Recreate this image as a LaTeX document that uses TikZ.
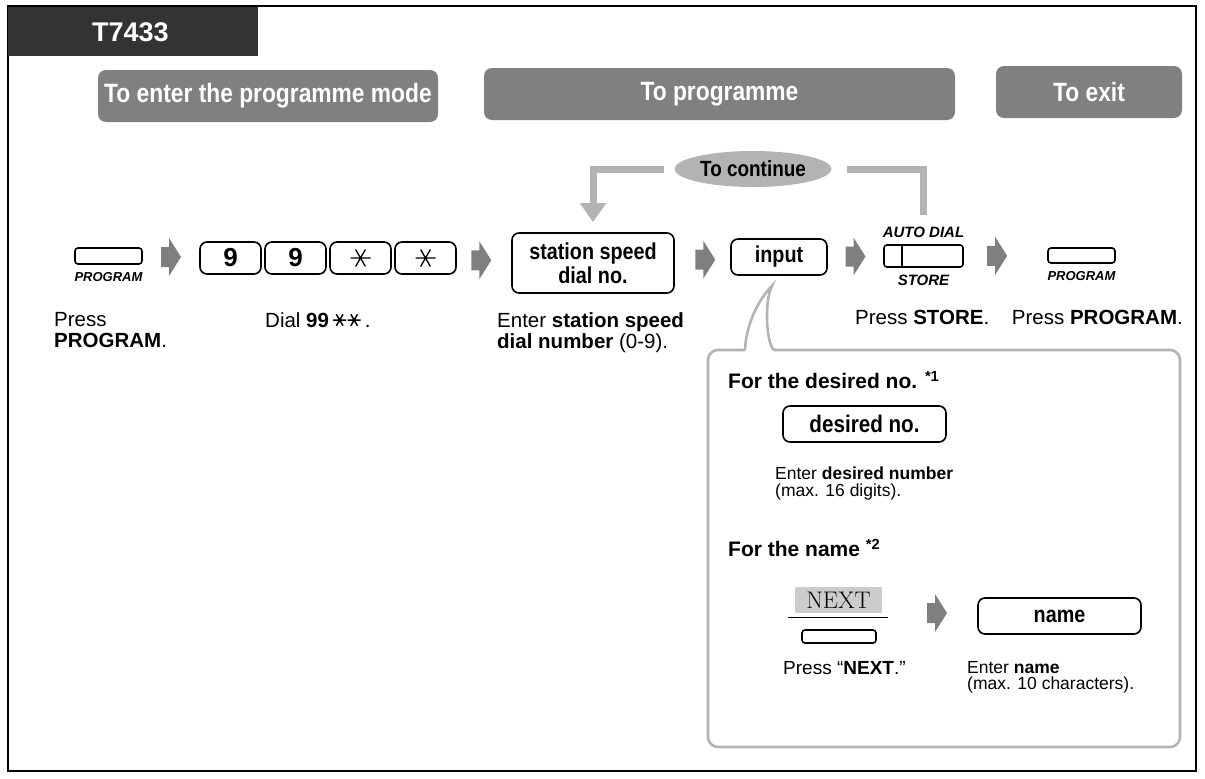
\documentclass[tikz,border=0pt]{standalone}
\usepackage{fontspec}
\setsansfont{Liberation Sans}
\renewcommand{\familydefault}{\sfdefault}
\newfontfamily\condfont[FakeStretch=0.86]{Liberation Sans}
\usepackage{xcolor}
\definecolor{cTab}{HTML}{333333}
\definecolor{cPhase}{HTML}{808080}
\definecolor{cLoop}{HTML}{B3B3B3}
\definecolor{cFlow}{HTML}{7F7F7F}
\definecolor{cNext}{HTML}{CCCCCC}
\usetikzlibrary{positioning,calc,arrows.meta,shapes.geometric}
\tikzset{
  tab-box/.style={fill=cTab,inner sep=0pt},
  tab-label/.style={text=white,font=\bfseries\fontsize{27}{27}\selectfont,inner sep=0pt},
  phase-box/.style={fill=cPhase,rounded corners=8pt,text=white,inner sep=0pt,
    font=\condfont\bfseries\fontsize{26.5}{26.5}\selectfont},
  key-box/.style={draw,line width=1.6pt,rounded corners=7pt,fill=white,inner sep=0pt,
    align=center,font=\condfont\bfseries\fontsize{23}{24}\selectfont},
  dial-box/.style={key-box,minimum width=61pt,minimum height=32pt,
    font=\bfseries\fontsize{26}{26}\selectfont},
  key-small/.style={draw,line width=1.6pt,rounded corners=3pt,inner sep=0pt},
  key-label/.style={inner sep=0pt,font=\bfseries\itshape\fontsize{13}{13}\selectfont},
  key-label-big/.style={inner sep=0pt,font=\bfseries\itshape\fontsize{15}{15}\selectfont},
  next-key/.style={fill=cNext,inner sep=0pt,font=\rmfamily\fontsize{24}{24}\selectfont},
  cont-oval/.style={ellipse,fill=cLoop,inner sep=0pt,
    font=\condfont\bfseries\fontsize{22}{22}\selectfont},
  body-text/.style={anchor=north west,align=left,inner sep=0pt,
    font=\fontsize{20.5}{21.5}\selectfont},
  small-text/.style={anchor=north west,align=left,inner sep=0pt,
    font=\fontsize{17.5}{16.5}\selectfont},
  callout-head/.style={anchor=west,inner sep=0pt,font=\bfseries\fontsize{21}{21}\selectfont},
  loop-line/.style={draw=cLoop,line width=7pt},
  callout-line/.style={draw=cLoop,line width=2.6pt},
  flow-arrow/.pic={
    \fill[cFlow] (-10,-10) -- (-2,-10) -- (-2,-19) -- (10,0) -- (-2,19) -- (-2,10)
      -- (-10,10) -- cycle;},
  star-glyph/.pic={
    \draw[line width=1.3pt] (-10,0) -- (10,0) (-4.9,-8.5) -- (4.9,8.5)
      (-4.9,8.5) -- (4.9,-8.5);},
}
% star in running text
\newcommand{\starmark}{\tikz[baseline=-7pt,x=1pt,y=1pt]
  \draw[line width=1.5pt] (-6.5,0) -- (6.5,0) (-3.3,-5.7) -- (3.3,5.7)
    (-3.3,5.7) -- (3.3,-5.7);}

\begin{document}
\begin{tikzpicture}[x=1pt,y=-1pt]
  \useasboundingbox (0,0) rectangle (1205,779);
  % frame and model tab
  \draw[line width=2.5pt] (8,6) rectangle (1196,771);
  \node[tab-box,minimum width=250pt,minimum height=49pt,anchor=north west] (tab) at (8,7) {};
  \node[tab-label,anchor=west] (tab-lbl) at (92,32) {T7433};

  % phase headers
  \node[phase-box,minimum width=340pt,minimum height=52pt] (ph-enter) at (268,96) {To enter the programme mode};
  \node[phase-box,minimum width=471pt,minimum height=52pt] (ph-prog) at (719.5,94) {To programme};
  \node[phase-box,minimum width=186pt,minimum height=52pt] (ph-exit) at (1089,92) {To exit};

  % main row
  \node[key-small,minimum width=67pt,minimum height=16pt] (prog-in) at (108.5,256) {};
  \node[key-label,below=7pt of prog-in] (prog-in-lbl) {PROGRAM};
  \node[dial-box] (dial-a) at (230.5,258) {9};
  \node[dial-box,right=2.4pt of dial-a] (dial-b) {9};
  \node[dial-box,right=2.4pt of dial-b] (dial-c) {};
  \node[dial-box,right=2.4pt of dial-c] (dial-d) {};
  \pic at (dial-c) {star-glyph};
  \pic at (dial-d) {star-glyph};
  \node[key-box,minimum width=162pt,minimum height=60pt] (station) at (593,263) {station speed\\dial no.};
  \node[key-box,minimum width=96pt,minimum height=36pt] (input) at (779,257) {input};
  \node[key-small,minimum width=79pt,minimum height=22pt] (store) at (923.5,256) {};
  \draw[line width=1.6pt] ([xshift=18.5pt]store.north west) -- ([xshift=18.5pt]store.south west);
  \node[key-label-big,above=6pt of store] (store-top) {AUTO DIAL};
  \node[key-label-big,below=7pt of store] (store-lbl) {STORE};
  \node[key-small,minimum width=67pt,minimum height=15pt] (prog-out) at (1081.5,255.5) {};
  \node[key-label,below=7pt of prog-out] (prog-out-lbl) {PROGRAM};

  \pic at ($(prog-in.east)!0.5!(dial-a.west)$) {flow-arrow};
  \pic at ($(dial-d.east)!0.45!(station.west)$) {flow-arrow};
  \pic at ($(station.east)!0.55!(input.west)$) {flow-arrow};
  \pic at ($(input.east)!0.5!(store.west)$) {flow-arrow};
  \pic at ($(store.east)!0.4!(prog-out.west)$) {flow-arrow};

  % loop back
  \node[cont-oval,minimum width=157pt,minimum height=36pt] (cont) at (753,169) {To continue};
  \coordinate[above=12pt of store-top] (loop-end);
  \draw[loop-line,-{Triangle[width=25pt,length=19pt]},shorten <=10pt] (cont.west) -| ([yshift=10pt]station.north);
  \draw[loop-line,shorten <=15pt] (cont.east) -| (loop-end);

  % captions
  \node[body-text] (txt-prog-in) at (54,312) {Press\\\textbf{PROGRAM}.};
  \node[body-text] (txt-dial) at (265,312) {Dial \textbf{99}\,\starmark\starmark\,.};
  \node[body-text] (txt-station) at (497,312) {Enter \textbf{station speed}\\\textbf{dial number} (0-9).};
  \node[body-text] (txt-store) at (855,310) {Press \textbf{STORE}.};
  \node[body-text,anchor=north east] (txt-prog-out) at (1183,310) {Press \textbf{PROGRAM}.};

  % callout for input
  \coordinate (tail-tip) at ($(input.south)+(-7,10)$);
  \draw[callout-line] (745,350) [rounded corners=10pt] -| (708,747) -| (1180,350) -- (785,350)
    [sharp corners] .. controls (771,350) and (767,336) .. (767,316)
    .. controls (767,302) and (769,292) .. (tail-tip)
    .. controls (758,300) and (746,325) .. (745,350);

  \node[callout-head] (hd-desired) at (728,380) {For the desired no. \textsuperscript{*1}};
  \node[key-box,minimum width=163pt,minimum height=36pt,font=\condfont\bfseries\fontsize{24}{24}\selectfont] (desired) at (864.5,424) {desired no.};
  \node[small-text] (txt-desired) at (775,467) {Enter \textbf{desired number}\\(max. 16 digits).};

  \node[callout-head] (hd-name) at (728,548) {For the name \textsuperscript{*2}};
  \node[next-key,minimum width=87pt,minimum height=26pt] (next) at (838.5,600) {NEXT};
  \draw[line width=1pt] ($(next.south west)+(-7,4)$) -- ($(next.south east)+(6,4)$);
  \node[key-small,minimum width=74pt,minimum height=13pt] (next-btn) at (839,636.5) {};
  \node[key-box,minimum width=163pt,minimum height=36pt] (name) at (1059.5,616) {name};
  \pic at (937,613) {flow-arrow};
  \node[body-text,font=\fontsize{19}{20}\selectfont] (txt-next) at (783,661) {Press “\textbf{NEXT}.”};
  \node[small-text] (txt-name) at (967,661) {Enter \textbf{name}\\(max. 10 characters).};
\end{tikzpicture}
\end{document}
